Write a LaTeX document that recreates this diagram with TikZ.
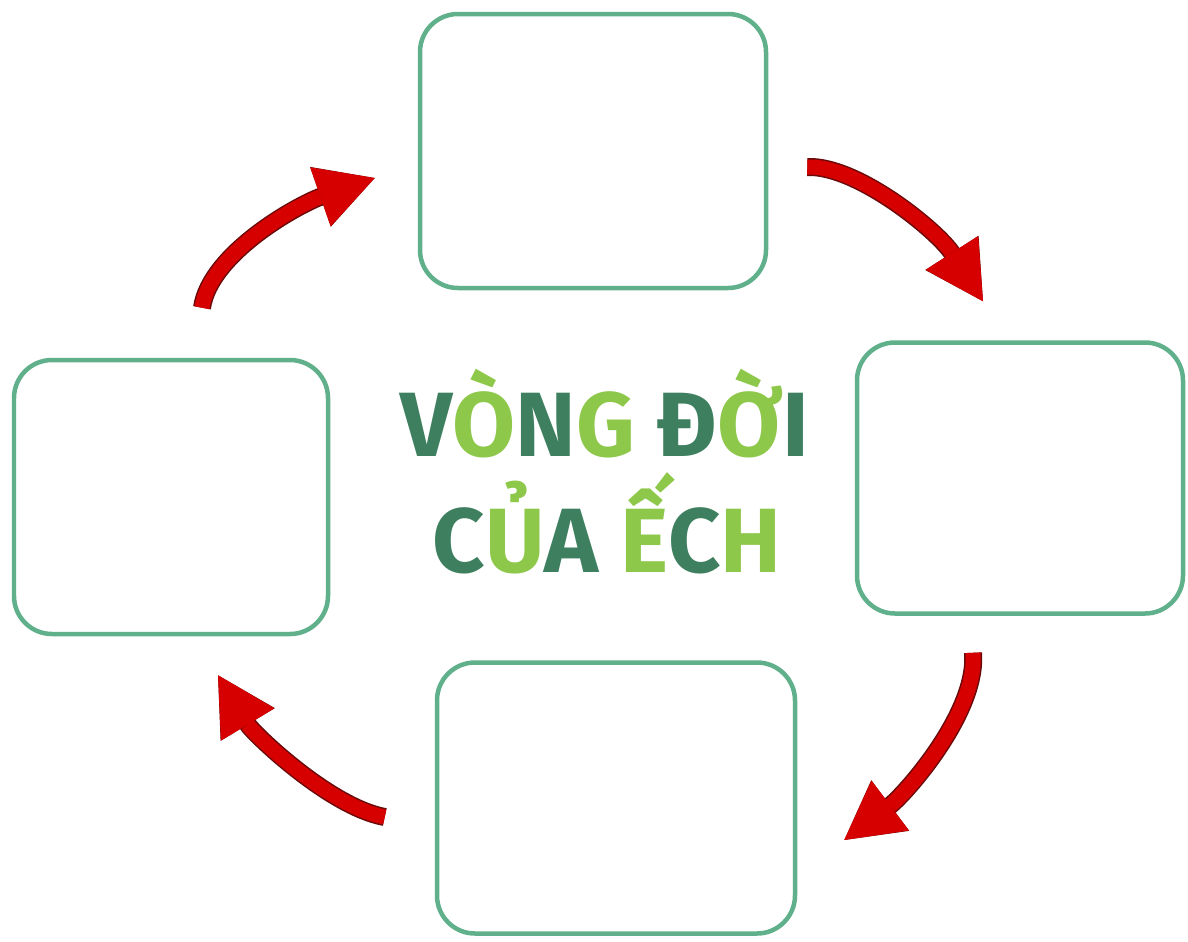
\documentclass[tikz,border=0pt]{standalone}
\usepackage{fontspec}
\usepackage{tikz}
\usetikzlibrary{arrows.meta}

\newfontfamily\titlefont{Fira Sans}
\definecolor{stagegreen}{RGB}{95,176,139}
\definecolor{darkgreen}{RGB}{61,127,94}
\definecolor{lightgreen}{RGB}{141,200,74}
\definecolor{arrowred}{RGB}{214,0,0}
\definecolor{arrowdark}{RGB}{105,10,10}
\newcommand{\dk}[1]{\textcolor{darkgreen}{#1}}
\newcommand{\lt}[1]{\textcolor{lightgreen}{#1}}

\tikzset{
  stage/.style={draw=stagegreen, line width=0.9mm, rounded corners=0.76cm},
  titleline/.style={font=\titlefont\bfseries\fontsize{52}{52}\selectfont, anchor=base, inner sep=0pt},
  arrowedge/.style={draw=arrowdark, line width=3.6mm, -{Triangle[length=11.5mm,width=12.5mm,line width=0.7mm]}},
  arrowbody/.style={draw=arrowred, line width=3mm, -{Triangle[length=11.5mm,width=12.5mm,line width=0pt]}}
}

\begin{document}
\begin{tikzpicture}[x=0.02cm,y=-0.02cm]
        \useasboundingbox (0,0) rectangle (1188,941);
        \foreach \Value/\X/\Y/\W/\H in {0/593/151/346/274,1/1020/478/326/271,2/616/798/358/271,3/171/497/314/274}
        {
          \node[stage, minimum width=\W*0.02cm, minimum height=\H*0.02cm] (stage\Value) at (\X,\Y) {};
        }
        \node[titleline] (title0) at (605,456) {\dk{V}\lt{Ò}\dk{N}\lt{G} \dk{Đ}\lt{Ờ}\dk{I}};
        \node[titleline] (title1) at (607,572) {\dk{C}\lt{Ủ}\dk{A} \lt{Ế}\dk{C}\lt{H}};
        \foreach \Value/\Tail/\Dx/\Dy/\Head/\Ex/\Ey/\ax/\ay/\bx/\by in
          {0/stage3.north/31/-50/stage0.west/-43/27/8/-55/-75/26,
           1/stage0.east/39/16/stage1.north/-37/-39/50/-2/-45/-70,
           2/stage1.south/-47/37/stage2.east/47/42/5/60/60/-45,
           3/stage2.west/-50/19/stage3.south/47/39/-55/-10/35/58}
        {
          \coordinate (tail\Value) at ([shift={(\Dx,\Dy)}]\Tail);
          \coordinate (head\Value) at ([shift={(\Ex,\Ey)}]\Head);
          \draw[arrowedge] (tail\Value) .. controls +(\ax,\ay) and +(\bx,\by) .. (head\Value);
          \draw[arrowbody] (tail\Value) .. controls +(\ax,\ay) and +(\bx,\by) .. (head\Value);
        }
\end{tikzpicture}
\end{document}
